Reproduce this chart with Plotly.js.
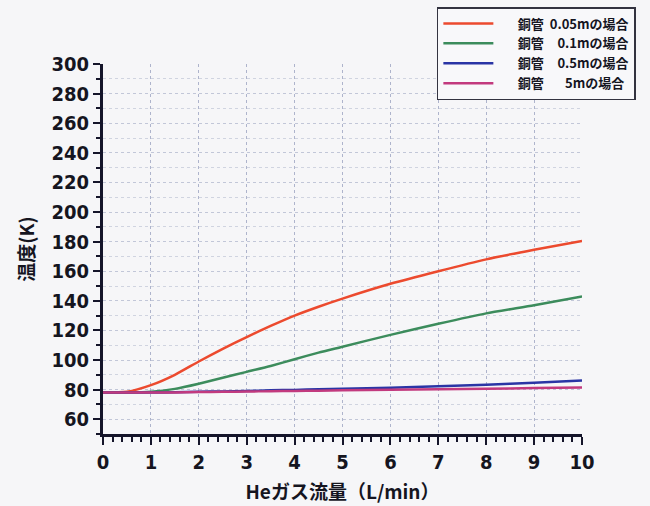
<!DOCTYPE html>
<html>
<head>
<meta charset="utf-8">
<script src="https://cdn.plot.ly/plotly-3.0.1.min.js"></script>
<style>html,body{margin:0;padding:0;background:#f6f6f8;}</style>
</head>
<body>
<div id="chart" style="width:650px;height:506px;"></div>
<script>
const flow = [0, 0.5, 1, 1.5, 2, 2.5, 3, 3.5, 4, 4.5, 5, 6, 7, 8, 9, 10];
const t005 = [78, 78.5, 83, 90, 99, 107.5, 115.5, 123, 130, 136, 141.5, 151.5, 160, 168, 174.5, 180.5];
const t01  = [78, 78, 78.5, 80.5, 84, 88, 92, 96, 100.5, 105, 109, 117, 124.5, 131.5, 137, 143];
const t05  = [78, 78, 78, 78.2, 78.5, 78.8, 79, 79.5, 79.8, 80.2, 80.5, 81.3, 82.2, 83.3, 84.6, 86.2];
const t5   = [78, 78, 78, 78.1, 78.3, 78.5, 78.7, 78.9, 79.1, 79.3, 79.5, 79.9, 80.3, 80.6, 81, 81.4];
const names = ['\u2003\u2002銅管\u00a0\u00a00.05mの場合', '\u2003\u2002銅管\u00a0\u00a0\u20070.1mの場合', '\u2003\u2002銅管\u00a0\u00a0\u20070.5mの場合', '\u2003\u2002銅管\u00a0\u00a0\u2007\u20075mの場合'];
const colors = ['#ec4a2e', '#3c8c5c', '#2a35a5', '#c23a7e'];
const series = [t005, t01, t05, t5];

const traces = series.map((s, i) => ({
  x: flow, y: s, type: 'scatter', mode: 'lines', name: names[i],
  line: {color: colors[i], width: 2.5, shape: 'spline', smoothing: 0.6}
}));

const tickFont = {family: '"DejaVu Sans Condensed", "DejaVu Sans", sans-serif', size: 20, color: '#15151f', weight: 'bold'};
const titleFont = {family: '"Noto Sans CJK JP", sans-serif', size: 19, color: '#15151f', weight: 'bold'};

const layout = {
  width: 650, height: 506,
  paper_bgcolor: '#f6f6f8', plot_bgcolor: '#f6f6f8',
  margin: {l: 103, r: 68, t: 64, b: 72, autoexpand: false},
  showlegend: true,
  legend: {
    x: 0.697, y: 1.154, xanchor: 'left', yanchor: 'top',
    bgcolor: '#f8f8fa', bordercolor: '#333340', borderwidth: 1.5,
    font: {family: '"Noto Sans CJK JP", sans-serif', size: 13, color: '#15151f', weight: 'bold'},
    tracegroupgap: 0, itemwidth: 50
  },
  xaxis: {
    range: [0, 10], dtick: 1, tick0: 0,
    showline: true, linecolor: '#15152a', linewidth: 3,
    ticks: 'outside', ticklen: 8, tickwidth: 2, tickcolor: '#15152a',
    tickfont: tickFont,
    showgrid: true, gridcolor: '#aeb4cc', griddash: 'dot', gridwidth: 1,
    zeroline: false,
    minor: {dtick: 0.2, ticklen: 5, tickwidth: 2, tickcolor: '#15152a', showgrid: false},
    title: {text: 'Heガス流量（L/min）', font: titleFont, standoff: 13}
  },
  yaxis: {
    range: [50, 300], dtick: 20, tick0: 0,
    showline: true, linecolor: '#15152a', linewidth: 3,
    ticks: 'outside', ticklen: 7, tickwidth: 2, tickcolor: '#15152a',
    tickfont: tickFont,
    showgrid: true, gridcolor: '#c2c7d8', griddash: 'dot', gridwidth: 1,
    zeroline: false,
    minor: {dtick: 10, ticklen: 4, tickwidth: 2, tickcolor: '#15152a', showgrid: true, gridcolor: '#d0d4e0', griddash: 'dot'},
    title: {text: '温度(K)', font: titleFont, standoff: 12}
  }
};
Plotly.newPlot('chart', traces, layout, {displayModeBar: false, staticPlot: true});
</script>
</body>
</html>
